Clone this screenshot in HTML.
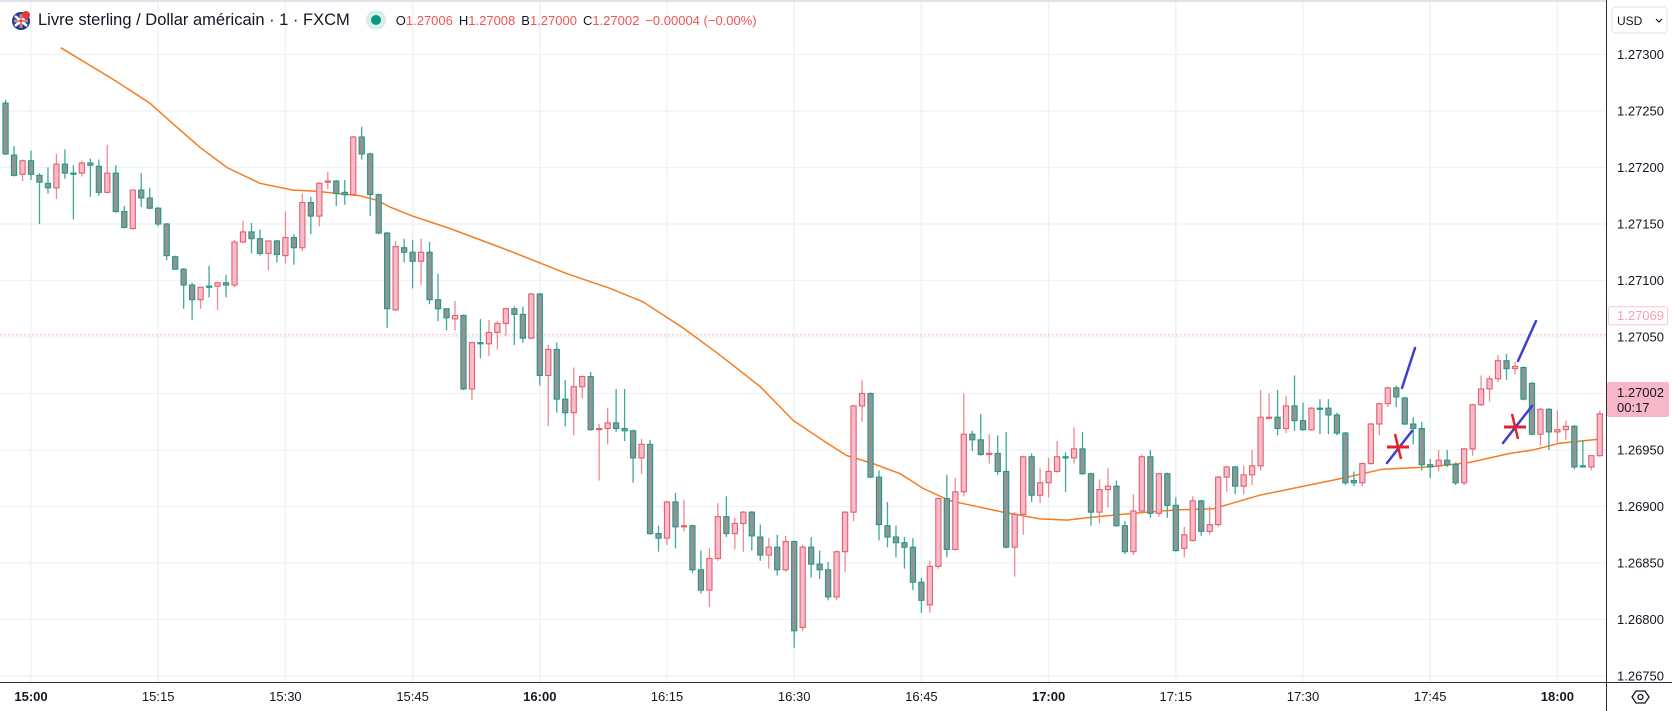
<!DOCTYPE html>
<html><head><meta charset="utf-8">
<style>
html,body{margin:0;padding:0;background:#fff;}
#wrap{position:relative;width:1672px;height:711px;overflow:hidden;font-family:"Liberation Sans",sans-serif;}
svg{position:absolute;left:0;top:0;}
#hdr{position:absolute;left:10px;top:9px;height:22px;display:flex;align-items:center;white-space:nowrap;}
.ttl{font-size:16.5px;color:#131722;margin-left:6px;}
.ohlc{font-size:13px;color:#131722;margin-left:10px;}
.ohlc span.v{color:#ef5350;margin-right:6px;}
</style></head><body>
<div id="wrap">
<svg id="chart" width="1672" height="711"></svg>
<div id="hdr">
 <svg width="22" height="22" style="position:static"><circle cx="11" cy="12" r="9" fill="#1f3a8a"/><path d="M4 12h14M11 5v14M5 7l12 10M17 7L5 17" stroke="#fff" stroke-width="2.5"/><path d="M4 12h14M11 5v14" stroke="#d32f2f" stroke-width="1.3"/><circle cx="16" cy="6" r="4" fill="#e53935"/></svg>
 <span class="ttl">Livre sterling / Dollar américain · 1 · FXCM</span>
 <span style="display:inline-block;width:20px;height:20px;border-radius:50%;background:#d6f0ea;margin-left:16px;position:relative"><span style="position:absolute;left:5px;top:5px;width:10px;height:10px;border-radius:50%;background:#089981"></span></span>
 <span class="ohlc">O<span class="v">1.27006</span>H<span class="v">1.27008</span>B<span class="v">1.27000</span>C<span class="v">1.27002</span><span class="v">−0.00004 (−0.00%)</span></span>
</div>
</div>
<script>
const opens=[1.27257,1.27211,1.27194,1.27206,1.27193,1.27186,1.27182,1.27203,1.27195,1.27195,
1.27204,1.27201,1.27178,1.27195,1.27161,1.27146,1.27180,1.27173,1.27164,1.27150,
1.27121,1.27110,1.27096,1.27083,1.27095,1.27095,1.27098,1.27096,1.27134,1.27143,
1.27137,1.27124,1.27135,1.27122,1.27138,1.27129,1.27169,1.27157,1.27187,1.27188,
1.27178,1.27176,1.27227,1.27212,1.27176,1.27142,1.27074,1.27129,1.27125,1.27117,
1.27125,1.27083,1.27075,1.27066,1.27069,1.27004,1.27045,1.27044,1.27054,1.27062,
1.27075,1.27070,1.27049,1.27088,1.27016,1.27039,1.26995,1.26983,1.27006,1.27015,
1.26968,1.26969,1.26974,1.26969,1.26967,1.26943,1.26955,1.26876,1.26872,1.26904,
1.26882,1.26883,1.26844,1.26826,1.26854,1.26891,1.26876,1.26885,1.26895,1.26873,
1.26857,1.26864,1.26844,1.26869,1.26793,1.26864,1.26849,1.26844,1.26820,1.26860,
1.26895,1.26989,1.27000,1.26926,1.26883,1.26873,1.26868,1.26864,1.26833,1.26813,
1.26847,1.26907,1.26862,1.26913,1.26964,1.26959,1.26946,1.26947,1.26931,1.26864,
1.26893,1.26944,1.26910,1.26921,1.26931,1.26944,1.26943,1.26951,1.26929,1.26895,
1.26915,1.26918,1.26883,1.26860,1.26896,1.26944,1.26894,1.26929,1.26901,1.26863,
1.26870,1.26905,1.26878,1.26884,1.26926,1.26935,1.26918,1.26928,1.26936,1.26978,
1.26979,1.26969,1.26989,1.26976,1.26968,1.26987,1.26987,1.26981,1.26965,1.26923,
1.26921,1.26938,1.26973,1.26991,1.27005,1.26996,1.26973,1.26969,1.26937,1.26936,
1.26941,1.26937,1.26921,1.26951,1.26990,1.27004,1.27013,1.27029,1.27022,1.27023,
1.27009,1.26964,1.26986,1.26966,1.26968,1.26971,1.26936,1.26935,1.26945];
const highs=[1.27260,1.27219,1.27207,1.27215,1.27195,1.27200,1.27212,1.27216,1.27202,1.27206,
1.27208,1.27207,1.27220,1.27202,1.27166,1.27180,1.27195,1.27182,1.27165,1.27151,
1.27122,1.27111,1.27098,1.27094,1.27113,1.27098,1.27105,1.27136,1.27153,1.27151,
1.27145,1.27135,1.27136,1.27161,1.27141,1.27177,1.27174,1.27187,1.27196,1.27189,
1.27189,1.27228,1.27236,1.27213,1.27177,1.27143,1.27135,1.27137,1.27136,1.27137,
1.27134,1.27106,1.27075,1.27082,1.27070,1.27046,1.27066,1.27065,1.27064,1.27076,
1.27077,1.27077,1.27089,1.27089,1.27043,1.27045,1.27012,1.27023,1.27016,1.27019,
1.26973,1.26987,1.27004,1.27004,1.26968,1.26960,1.26959,1.26883,1.26905,1.26912,
1.26906,1.26884,1.26861,1.26863,1.26903,1.26909,1.26890,1.26896,1.26896,1.26884,
1.26872,1.26875,1.26874,1.26870,1.26866,1.26873,1.26861,1.26851,1.26861,1.26896,
1.26990,1.27012,1.27001,1.26932,1.26904,1.26883,1.26873,1.26872,1.26837,1.26852,
1.26908,1.26928,1.26925,1.27000,1.26967,1.26982,1.26964,1.26963,1.26966,1.26895,
1.26945,1.26947,1.26934,1.26943,1.26958,1.26948,1.26970,1.26966,1.26930,1.26924,
1.26934,1.26923,1.26887,1.26911,1.26946,1.26950,1.26930,1.26930,1.26908,1.26882,
1.26909,1.26906,1.26900,1.26927,1.26936,1.26936,1.26936,1.26950,1.27003,1.27000,
1.27003,1.26998,1.27016,1.26992,1.26988,1.26995,1.26995,1.26983,1.26966,1.26931,
1.26939,1.26974,1.26992,1.27006,1.27007,1.26997,1.26979,1.26975,1.26942,1.26950,
1.26950,1.26939,1.26952,1.26991,1.27016,1.27016,1.27034,1.27035,1.27028,1.27024,
1.27010,1.26987,1.26987,1.26985,1.26976,1.26972,1.26959,1.26936,1.26985];
const lows=[1.27211,1.27192,1.27188,1.27189,1.27150,1.27177,1.27172,1.27190,1.27154,1.27192,
1.27174,1.27175,1.27177,1.27160,1.27146,1.27145,1.27165,1.27163,1.27148,1.27118,
1.27110,1.27075,1.27065,1.27075,1.27085,1.27074,1.27085,1.27094,1.27133,1.27124,
1.27122,1.27109,1.27116,1.27115,1.27114,1.27126,1.27141,1.27148,1.27181,1.27166,
1.27167,1.27175,1.27207,1.27157,1.27141,1.27058,1.27073,1.27116,1.27093,1.27096,
1.27079,1.27064,1.27056,1.27056,1.27003,1.26994,1.27031,1.27033,1.27039,1.27051,
1.27043,1.27045,1.27048,1.27007,1.26971,1.26983,1.26971,1.26963,1.26996,1.26967,
1.26923,1.26955,1.26966,1.26958,1.26921,1.26929,1.26875,1.26860,1.26866,1.26863,
1.26878,1.26841,1.26823,1.26811,1.26852,1.26873,1.26862,1.26860,1.26861,1.26852,
1.26845,1.26839,1.26842,1.26775,1.26790,1.26837,1.26836,1.26817,1.26817,1.26842,
1.26887,1.26975,1.26925,1.26870,1.26864,1.26855,1.26845,1.26826,1.26806,1.26806,
1.26845,1.26855,1.26861,1.26909,1.26949,1.26945,1.26938,1.26928,1.26863,1.26838,
1.26875,1.26904,1.26903,1.26908,1.26930,1.26913,1.26938,1.26928,1.26883,1.26885,
1.26899,1.26882,1.26858,1.26857,1.26895,1.26890,1.26891,1.26890,1.26860,1.26855,
1.26869,1.26874,1.26875,1.26882,1.26913,1.26911,1.26911,1.26919,1.26932,1.26977,
1.26963,1.26965,1.26967,1.26967,1.26967,1.26964,1.26964,1.26963,1.26919,1.26918,
1.26918,1.26937,1.26963,1.26988,1.26988,1.26972,1.26955,1.26932,1.26925,1.26931,
1.26935,1.26919,1.26919,1.26945,1.26989,1.26993,1.27010,1.27012,1.27017,1.26994,
1.26963,1.26954,1.26950,1.26956,1.26959,1.26933,1.26935,1.26932,1.26944];
const closes=[1.27212,1.27193,1.27206,1.27194,1.27187,1.27182,1.27203,1.27195,1.27194,1.27204,
1.27202,1.27178,1.27195,1.27161,1.27147,1.27180,1.27173,1.27164,1.27150,1.27122,
1.27110,1.27096,1.27083,1.27094,1.27094,1.27098,1.27096,1.27134,1.27143,1.27137,
1.27124,1.27135,1.27123,1.27138,1.27129,1.27169,1.27157,1.27186,1.27188,1.27177,
1.27176,1.27227,1.27212,1.27176,1.27142,1.27075,1.27130,1.27125,1.27117,1.27125,
1.27083,1.27075,1.27067,1.27069,1.27004,1.27045,1.27044,1.27054,1.27062,1.27075,
1.27070,1.27049,1.27088,1.27016,1.27039,1.26995,1.26983,1.27006,1.27015,1.26968,
1.26969,1.26974,1.26969,1.26967,1.26943,1.26955,1.26876,1.26872,1.26904,1.26882,
1.26883,1.26844,1.26826,1.26854,1.26891,1.26876,1.26885,1.26895,1.26874,1.26857,
1.26864,1.26844,1.26869,1.26790,1.26864,1.26849,1.26844,1.26820,1.26860,1.26895,
1.26989,1.27000,1.26926,1.26884,1.26873,1.26868,1.26864,1.26833,1.26817,1.26847,
1.26907,1.26862,1.26913,1.26964,1.26959,1.26946,1.26947,1.26931,1.26864,1.26893,
1.26944,1.26910,1.26921,1.26931,1.26944,1.26943,1.26951,1.26929,1.26895,1.26915,
1.26918,1.26883,1.26860,1.26896,1.26944,1.26894,1.26929,1.26901,1.26861,1.26875,
1.26905,1.26878,1.26884,1.26926,1.26935,1.26918,1.26928,1.26936,1.26979,1.26979,
1.26969,1.26989,1.26976,1.26968,1.26987,1.26986,1.26981,1.26965,1.26921,1.26921,
1.26938,1.26973,1.26991,1.27005,1.26997,1.26973,1.26969,1.26937,1.26935,1.26941,
1.26937,1.26921,1.26951,1.26990,1.27004,1.27013,1.27029,1.27022,1.27024,1.26995,
1.26964,1.26986,1.26966,1.26968,1.26971,1.26935,1.26935,1.26945,1.26982];
const firstMinute=-3; // minutes after 15:00 of first candle
const maMinutes=[3.5,9.9,14,16.7,19.9,23.1,27,30.9,33.7,36.1,38.8,40.8,42.3,45,49.4,56.5,59.2,63.2,68.3,72.2,76.9,80.9,86,89.9,93.9,96.2,99.3,102.5,105.2,108.4,114.6,119,122.2,124.5,130,135.1,139.4,144.9,154,159.4,165,169.7,174.4,177.1,180.3,185.4];
const maValues=[1.27306,1.27277,1.27257,1.27239,1.27218,1.27200,1.27186,1.27180,1.27179,1.27177,1.27175,1.27171,1.27165,1.27157,1.27146,1.27126,1.27118,1.27106,1.27093,1.27081,1.27058,1.27036,1.27006,1.26976,1.26956,1.26945,1.26938,1.26929,1.26916,1.26905,1.26895,1.26889,1.26888,1.26890,1.26894,1.26897,1.26898,1.26910,1.26924,1.26933,1.26935,1.26939,1.26947,1.26950,1.26956,1.26960];
const priceTicks=[1.27300,1.27250,1.27200,1.27150,1.27100,1.27050,1.27000,1.26950,1.26900,1.26850,1.26800,1.26750];
const timeTicks=[0,15,30,45,60,75,90,105,120,135,150,165,180];
const timeLabels=["15:00","15:15","15:30","15:45","16:00","16:15","16:30","16:45","17:00","17:15","17:30","17:45","18:00"];
const lineLevel=1.27052, lineLabel="1.27069", lastPrice=1.27002;

const NS="http://www.w3.org/2000/svg";
const svg=document.getElementById('chart');
const PX=1606, AXY=682;
function yS(p){return 54.5+(1.27300-p)/0.0005*56.5;}
function xS(m){return 31+8.48*m;}
function el(t,a,parent){const e=document.createElementNS(NS,t);for(const k in a)e.setAttribute(k,a[k]);(parent||svg).appendChild(e);return e;}

// grid
const grid=el('g',{});


priceTicks.forEach(p=>{el('line',{x1:0,x2:PX,y1:yS(p),y2:yS(p),stroke:'#eef1f5','stroke-width':1.3},grid);});
timeTicks.forEach(m=>{el('line',{x1:xS(m),x2:xS(m),y1:0,y2:AXY,stroke:'#eef1f5','stroke-width':1.3},grid);});
el('rect',{x:0,y:0,width:1672,height:2,fill:'#e0e3eb'});

// current price dotted line
const pl=el('line',{x1:0,x2:PX,y1:yS(lineLevel),y2:yS(lineLevel),stroke:'#f7b3c2','stroke-dasharray':'1.5 2.5','stroke-width':1.3});



// MA
let d='';maMinutes.forEach((m,i)=>{d+=(i?'L':'M')+xS(m).toFixed(1)+' '+yS(maValues[i]).toFixed(1);});
const ma=el('path',{d:d,fill:'none',stroke:'#f57c1f','stroke-width':1.5});



// candles
const cg=el('g',{});


opens.forEach((o,i)=>{
 const c=closes[i],x=xS(firstMinute+i),up=c>=o;
 const g=el('g',{},cg);
 
 
 el('line',{x1:x,x2:x,y1:yS(highs[i]),y2:yS(lows[i]),stroke:up?'#ef8a92':'#40a99c','stroke-width':1.3},g);
 const t=yS(Math.max(o,c)),b=yS(Math.min(o,c));
 el('rect',{x:x-2.6,y:t,width:5.2,height:Math.max(b-t,1),fill:up?'#f8bbcb':'#939393',stroke:up?'#e3616b':'#1f9a8a','stroke-width':1.1},g);
});

// drawings
const dr=el('g',{});


[[1402,388,1415,348],[1387,463,1412,431],[1518,361,1536,321],[1503,443,1532,406]].forEach(s=>el('line',{x1:s[0],y1:s[1],x2:s[2],y2:s[3],stroke:'#3f3fd0','stroke-width':2.5,'stroke-linecap':'round'},dr));
[[1398,447],[1515,427]].forEach(p=>{
 el('line',{x1:p[0]-11,y1:p[1],x2:p[0]+11,y2:p[1],stroke:'#e8202a','stroke-width':3},dr);
 el('line',{x1:p[0]-3,y1:p[1]-13,x2:p[0]+3,y2:p[1]+12,stroke:'#e8202a','stroke-width':2.5},dr);
});

// axes
el('rect',{x:PX,y:0,width:1672-PX,height:711,fill:'#fff'});
el('rect',{x:0,y:AXY,width:1672,height:711-AXY,fill:'#fff'});
el('line',{x1:PX+0.5,x2:PX+0.5,y1:0,y2:711,stroke:'#2a2e39','stroke-width':1});
el('line',{x1:0,x2:1672,y1:AXY+0.5,y2:AXY+0.5,stroke:'#2a2e39','stroke-width':1});
const ya=el('g',{});


priceTicks.forEach(p=>{const t=el('text',{x:1617,y:yS(p)+4.5,'font-size':13,fill:'#131722','font-family':'Liberation Sans, sans-serif'},ya);t.textContent=p.toFixed(5);});
const xa=el('g',{});


timeTicks.forEach((m,i)=>{const t=el('text',{x:xS(m),y:701,'font-size':13,'text-anchor':'middle',fill:'#131722','font-weight':(m%60===0)?'bold':'normal','font-family':'Liberation Sans, sans-serif'},xa);t.textContent=timeLabels[i];});

// labels
const lb=el('g',{});


el('rect',{x:1608.5,y:yS(lineLevel)-28,width:59,height:18,fill:'#fff',stroke:'#f9c6d2',rx:2},lb);
const lt=el('text',{x:1617,y:yS(lineLevel)-14.5,'font-size':13,fill:'#f5a0b4','font-family':'Liberation Sans, sans-serif'},lb);lt.textContent=lineLabel;
const lp=el('g',{});


el('rect',{x:1607,y:382,width:62,height:35,fill:'#f7b7c8',rx:2},lp);
const t1=el('text',{x:1617,y:397,'font-size':13,fill:'#131722','font-family':'Liberation Sans, sans-serif'},lp);t1.textContent=lastPrice.toFixed(5);
const t2=el('text',{x:1617,y:412,'font-size':13,fill:'#131722','font-family':'Liberation Sans, sans-serif'},lp);t2.textContent='00:17';
const usd=el('g',{});


el('rect',{x:1612,y:7,width:55,height:26,rx:4,fill:'#fff',stroke:'#e0e3eb'},usd);
const ut=el('text',{x:1617,y:25,'font-size':12,fill:'#131722','font-family':'Liberation Sans, sans-serif'},usd);ut.textContent='USD';
el('path',{d:'M1656 19l3 3 3-3',fill:'none',stroke:'#131722','stroke-width':1.2},usd);
const eye=el('g',{});


el('path',{d:'M1632 697l4-6h9l4 6-4 6h-9z',fill:'none',stroke:'#131722','stroke-width':1.3},eye);
el('circle',{cx:1640.5,cy:697,r:2.5,fill:'none',stroke:'#131722','stroke-width':1.3},eye);
</script>
</body></html>
